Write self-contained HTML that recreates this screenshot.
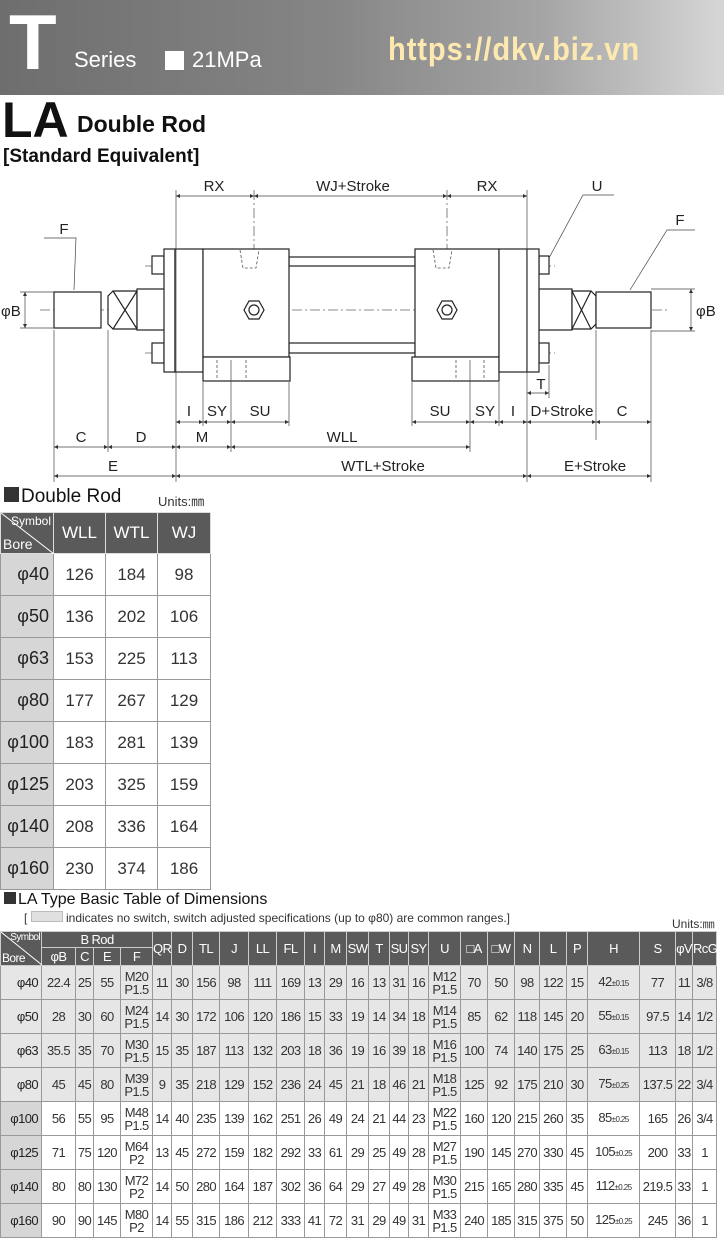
<!DOCTYPE html>
<html><head><meta charset="utf-8"><style>
body{margin:0;width:724px;height:1236px;position:relative;background:#fff;font-family:"Liberation Sans",sans-serif;overflow:hidden;color:#222}
.a{position:absolute;white-space:nowrap}
table{border-collapse:collapse;table-layout:fixed;position:absolute}
.t1 td{border:1px solid #999;text-align:center;font-size:17px;height:41px;padding:0;color:#333}
.t1 th{background:#5a5a5a;color:#fff;font-weight:normal;font-size:17px;border:1px solid #ddd;height:40px;padding:0}
.t1 td.b{background:#d6d6d6;text-align:right;padding-right:4px;font-size:18px;color:#222}
.t2 td{border:1px solid #999;text-align:center;font-size:13px;height:33px;padding:0;letter-spacing:-0.6px;color:#333;line-height:13px}
.t2 th{background:#5a5a5a;color:#fff;font-weight:normal;font-size:13px;border:1px solid #ccc;padding:0;letter-spacing:-0.6px}
.t2 tr.g td{background:#e6e6e6}
.t2 td.b{background:#d6d6d6;text-align:right;padding-right:3px;color:#222}
.t2 small{font-size:8px}
</style></head><body>
<div class="a" style="left:0;top:0;width:724px;height:95px;background:linear-gradient(90deg,#6e6e6e 0%,#858585 45%,#a5a5a5 75%,#d6d6d6 100%)"></div>
<div class="a" style="left:9px;top:3px;font-size:78px;font-weight:bold;color:#fff;line-height:78px">T</div>
<div class="a" style="left:74px;top:47px;font-size:22px;color:#fff">Series</div>
<div class="a" style="left:165px;top:51px;width:19px;height:19px;background:#fff"></div>
<div class="a" style="left:192px;top:47px;font-size:22px;color:#fff">21MPa</div>
<div class="a" style="left:388px;top:31px;font-size:32px;font-weight:bold;color:#fde9b0;transform:scaleX(0.91);transform-origin:0 0;letter-spacing:1px">https://dkv.biz.vn</div>
<div class="a" style="left:2px;top:91px;font-size:50px;font-weight:bold;color:#111;letter-spacing:0px">LA</div>
<div class="a" style="left:77px;top:111px;font-size:23px;font-weight:bold;color:#111">Double Rod</div>
<div class="a" style="left:3px;top:146px;font-size:19px;font-weight:bold;color:#111">[Standard Equivalent]</div>

<svg class="a" style="left:0;top:0" width="724" height="490" viewBox="0 0 724 490" font-family="Liberation Sans" font-size="15" fill="none" stroke="#333" stroke-width="1">
<defs><marker id="m" viewBox="0 0 6 6" refX="6" refY="3" markerWidth="6" markerHeight="6" orient="auto-start-reverse"><path d="M0 0 L6 3 L0 6z" fill="#333" stroke="none"/></marker></defs>
<g stroke-dasharray="10,3,2,3" stroke="#666" stroke-width="0.8">
<line x1="40" y1="310" x2="668" y2="310"/><line x1="145" y1="266" x2="555" y2="266"/><line x1="145" y1="353" x2="555" y2="353"/>
<line x1="254" y1="190" x2="254" y2="340"/><line x1="447" y1="190" x2="447" y2="340"/>
</g>
<g fill="#fff" stroke="#222" stroke-width="1.2">
<rect x="54" y="292" width="47" height="36"/><path d="M108 296 l5 -5 h24 v38 h-24 l-5 -5z"/><line x1="113" y1="291" x2="137" y2="329"/><line x1="137" y1="291" x2="113" y2="329"/>
<rect x="137" y="289" width="28" height="41"/>
<rect x="539" y="289" width="33" height="41"/><path d="M596 296 l-5 -5 h-19 v38 h19 l5 -5z"/><line x1="572" y1="291" x2="591" y2="329"/><line x1="591" y1="291" x2="572" y2="329"/>
<rect x="596" y="292" width="55" height="36"/>
<rect x="152" y="256" width="12" height="18"/><rect x="152" y="343" width="12" height="20"/>
<rect x="539" y="256" width="10" height="18"/><rect x="539" y="343" width="10" height="20"/>
<rect x="289" y="257" width="126" height="9"/><rect x="289" y="343" width="126" height="10"/>
<rect x="164" y="249" width="11" height="123"/><rect x="175" y="249" width="28" height="123"/>
<rect x="203" y="249" width="86" height="108"/><rect x="203" y="357" width="87" height="24"/>
<rect x="415" y="249" width="84" height="108"/><rect x="412" y="357" width="87" height="24"/>
<rect x="499" y="249" width="28" height="123"/><rect x="527" y="249" width="12" height="123"/>
<path d="M244 310 l5 -9 h10 l5 9 l-5 9 h-10z"/><circle cx="254" cy="310" r="5"/>
<path d="M437 310 l5 -9 h10 l5 9 l-5 9 h-10z"/><circle cx="447" cy="310" r="5"/>
</g>
<g stroke="#555" stroke-dasharray="3,2" stroke-width="0.8">
<line x1="217" y1="360" x2="217" y2="380"/><line x1="246" y1="360" x2="246" y2="380"/>
<line x1="456" y1="360" x2="456" y2="380"/><line x1="484" y1="360" x2="484" y2="380"/>
<path d="M240 250 l3 18 h13 l3 -18"/><path d="M433 250 l3 18 h13 l3 -18"/>
</g>
<g stroke="#444" stroke-width="0.7">
<line x1="176" y1="190" x2="176" y2="482"/><line x1="527" y1="190" x2="527" y2="482"/>
<line x1="54" y1="330" x2="54" y2="482"/><line x1="108" y1="330" x2="108" y2="452"/>
<line x1="203" y1="382" x2="203" y2="426"/><line x1="231" y1="360" x2="231" y2="452"/><line x1="289" y1="382" x2="289" y2="426"/>
<line x1="412" y1="382" x2="412" y2="426"/><line x1="470" y1="360" x2="470" y2="452"/><line x1="499" y1="382" x2="499" y2="426"/>
<line x1="549" y1="365" x2="549" y2="398"/><line x1="596" y1="330" x2="596" y2="440"/><line x1="651" y1="330" x2="651" y2="482"/>
<line x1="20" y1="292" x2="54" y2="292"/><line x1="20" y1="328" x2="54" y2="328"/>
<line x1="651" y1="289" x2="695" y2="289"/><line x1="651" y1="331" x2="695" y2="331"/>
<polyline points="44,238 76,238 74,290"/><polyline points="695,230 667,230 630,290"/>
<polyline points="614,195 583,195 549,258"/>
</g>
<g stroke="#444" stroke-width="0.7" marker-start="url(#m)" marker-end="url(#m)">
<line x1="25" y1="292" x2="25" y2="328"/><line x1="691" y1="289" x2="691" y2="331"/>
<line x1="176" y1="196" x2="254" y2="196"/><line x1="254" y1="196" x2="447" y2="196"/><line x1="447" y1="196" x2="527" y2="196"/>
<line x1="176" y1="422" x2="203" y2="422"/><line x1="203" y1="422" x2="231" y2="422"/><line x1="231" y1="422" x2="289" y2="422"/>
<line x1="412" y1="422" x2="470" y2="422"/><line x1="470" y1="422" x2="499" y2="422"/><line x1="499" y1="422" x2="527" y2="422"/><line x1="527" y1="422" x2="596" y2="422"/><line x1="596" y1="422" x2="651" y2="422"/>
<line x1="527" y1="393" x2="549" y2="393"/>
<line x1="54" y1="447" x2="108" y2="447"/><line x1="108" y1="447" x2="176" y2="447"/><line x1="176" y1="447" x2="231" y2="447"/><line x1="231" y1="447" x2="470" y2="447"/>
<line x1="54" y1="476" x2="176" y2="476"/><line x1="176" y1="476" x2="527" y2="476"/><line x1="527" y1="476" x2="651" y2="476"/>
</g>
<g fill="#222" stroke="none" font-size="15">
<text x="214" y="191" text-anchor="middle">RX</text><text x="353" y="191" text-anchor="middle">WJ+Stroke</text><text x="487" y="191" text-anchor="middle">RX</text>
<text x="597" y="191" text-anchor="middle">U</text><text x="64" y="234" text-anchor="middle">F</text><text x="680" y="225" text-anchor="middle">F</text>
<text x="1" y="316">φB</text><text x="696" y="316">φB</text>
<text x="189" y="416" text-anchor="middle">I</text><text x="217" y="416" text-anchor="middle">SY</text><text x="260" y="416" text-anchor="middle">SU</text>
<text x="440" y="416" text-anchor="middle">SU</text><text x="485" y="416" text-anchor="middle">SY</text><text x="513" y="416" text-anchor="middle">I</text>
<text x="562" y="416" text-anchor="middle">D+Stroke</text><text x="622" y="416" text-anchor="middle">C</text>
<text x="541" y="389" text-anchor="middle">T</text>
<text x="81" y="442" text-anchor="middle">C</text><text x="141" y="442" text-anchor="middle">D</text><text x="202" y="442" text-anchor="middle">M</text><text x="342" y="442" text-anchor="middle">WLL</text>
<text x="113" y="471" text-anchor="middle">E</text><text x="383" y="471" text-anchor="middle">WTL+Stroke</text><text x="595" y="471" text-anchor="middle">E+Stroke</text>
</g>
</svg>

<div class="a" style="left:4px;top:486px;font-size:19px;color:#111"><span style="display:inline-block;width:15px;height:15px;background:#333;margin-right:2px"></span>Double Rod</div>
<div class="a" style="left:158px;top:491px;font-size:13px;color:#333">Units:㎜</div>
<table class="t1" style="left:0;top:512px;width:210px">
<colgroup><col style="width:53px"><col style="width:52px"><col style="width:52px"><col style="width:53px"></colgroup>
<tr><th style="position:relative;font-size:12px"><svg style="position:absolute;left:0;top:0" width="53" height="41"><line x1="0" y1="0" x2="53" y2="41" stroke="#fff"/></svg><span style="position:absolute;right:2px;top:1px">Symbol</span><span style="position:absolute;left:2px;bottom:1px;font-size:14px">Bore</span></th><th>WLL</th><th>WTL</th><th>WJ</th></tr>
<tr><td class="b">φ40</td><td>126</td><td>184</td><td>98</td></tr>
<tr><td class="b">φ50</td><td>136</td><td>202</td><td>106</td></tr>
<tr><td class="b">φ63</td><td>153</td><td>225</td><td>113</td></tr>
<tr><td class="b">φ80</td><td>177</td><td>267</td><td>129</td></tr>
<tr><td class="b">φ100</td><td>183</td><td>281</td><td>139</td></tr>
<tr><td class="b">φ125</td><td>203</td><td>325</td><td>159</td></tr>
<tr><td class="b">φ140</td><td>208</td><td>336</td><td>164</td></tr>
<tr><td class="b">φ160</td><td>230</td><td>374</td><td>186</td></tr>
</table>

<div class="a" style="left:4px;top:891px;font-size:16px;color:#111"><span style="display:inline-block;width:12px;height:12px;background:#333;margin-right:2px"></span>LA Type Basic Table of Dimensions</div>
<div class="a" style="left:24px;top:911px;font-size:12px;color:#333">[ <span style="display:inline-block;width:30px;height:9px;background:#e0e0e0;border:1px solid #bbb"></span> indicates no switch, switch adjusted specifications (up to φ80) are common ranges.]</div>
<div class="a" style="left:672px;top:915px;font-size:12px;color:#333">Units:㎜</div>
<table class="t2" style="left:0;top:931px;width:716px">
<colgroup><col style="width:41px"><col style="width:34px"><col style="width:18px"><col style="width:27px"><col style="width:32px"><col style="width:19px"><col style="width:21px"><col style="width:27px"><col style="width:29px"><col style="width:28px"><col style="width:28px"><col style="width:20px"><col style="width:22px"><col style="width:22px"><col style="width:21px"><col style="width:19px"><col style="width:20px"><col style="width:32px"><col style="width:27px"><col style="width:27px"><col style="width:25px"><col style="width:27px"><col style="width:21px"><col style="width:52px"><col style="width:36px"><col style="width:17px"><col style="width:24px"></colgroup>
<tr style="height:15px"><th rowspan="2" style="position:relative;font-size:10px"><svg style="position:absolute;left:0;top:0" width="41" height="33"><line x1="0" y1="0" x2="41" y2="33" stroke="#fff"/></svg><span style="position:absolute;right:1px;top:0">Symbol</span><span style="position:absolute;left:1px;bottom:0;font-size:12px">Bore</span></th><th colspan="4">B Rod</th><th rowspan="2">QR</th><th rowspan="2">D</th><th rowspan="2">TL</th><th rowspan="2">J</th><th rowspan="2">LL</th><th rowspan="2">FL</th><th rowspan="2">I</th><th rowspan="2">M</th><th rowspan="2">SW</th><th rowspan="2">T</th><th rowspan="2">SU</th><th rowspan="2">SY</th><th rowspan="2">U</th><th rowspan="2">□A</th><th rowspan="2">□W</th><th rowspan="2">N</th><th rowspan="2">L</th><th rowspan="2">P</th><th rowspan="2">H</th><th rowspan="2">S</th><th rowspan="2">φV</th><th rowspan="2">RcG</th></tr>
<tr style="height:18px"><th>φB</th><th>C</th><th>E</th><th>F</th></tr>
<tr class="g"><td class="b">φ40</td><td>22.4</td><td>25</td><td>55</td><td>M20<br>P1.5</td><td>11</td><td>30</td><td>156</td><td>98</td><td>111</td><td>169</td><td>13</td><td>29</td><td>16</td><td>13</td><td>31</td><td>16</td><td>M12<br>P1.5</td><td>70</td><td>50</td><td>98</td><td>122</td><td>15</td><td>42<small>±0.15</small></td><td>77</td><td>11</td><td>3/8</td></tr>
<tr class="g"><td class="b">φ50</td><td>28</td><td>30</td><td>60</td><td>M24<br>P1.5</td><td>14</td><td>30</td><td>172</td><td>106</td><td>120</td><td>186</td><td>15</td><td>33</td><td>19</td><td>14</td><td>34</td><td>18</td><td>M14<br>P1.5</td><td>85</td><td>62</td><td>118</td><td>145</td><td>20</td><td>55<small>±0.15</small></td><td>97.5</td><td>14</td><td>1/2</td></tr>
<tr class="g"><td class="b">φ63</td><td>35.5</td><td>35</td><td>70</td><td>M30<br>P1.5</td><td>15</td><td>35</td><td>187</td><td>113</td><td>132</td><td>203</td><td>18</td><td>36</td><td>19</td><td>16</td><td>39</td><td>18</td><td>M16<br>P1.5</td><td>100</td><td>74</td><td>140</td><td>175</td><td>25</td><td>63<small>±0.15</small></td><td>113</td><td>18</td><td>1/2</td></tr>
<tr class="g"><td class="b">φ80</td><td>45</td><td>45</td><td>80</td><td>M39<br>P1.5</td><td>9</td><td>35</td><td>218</td><td>129</td><td>152</td><td>236</td><td>24</td><td>45</td><td>21</td><td>18</td><td>46</td><td>21</td><td>M18<br>P1.5</td><td>125</td><td>92</td><td>175</td><td>210</td><td>30</td><td>75<small>±0.25</small></td><td>137.5</td><td>22</td><td>3/4</td></tr>
<tr><td class="b">φ100</td><td>56</td><td>55</td><td>95</td><td>M48<br>P1.5</td><td>14</td><td>40</td><td>235</td><td>139</td><td>162</td><td>251</td><td>26</td><td>49</td><td>24</td><td>21</td><td>44</td><td>23</td><td>M22<br>P1.5</td><td>160</td><td>120</td><td>215</td><td>260</td><td>35</td><td>85<small>±0.25</small></td><td>165</td><td>26</td><td>3/4</td></tr>
<tr><td class="b">φ125</td><td>71</td><td>75</td><td>120</td><td>M64<br>P2</td><td>13</td><td>45</td><td>272</td><td>159</td><td>182</td><td>292</td><td>33</td><td>61</td><td>29</td><td>25</td><td>49</td><td>28</td><td>M27<br>P1.5</td><td>190</td><td>145</td><td>270</td><td>330</td><td>45</td><td>105<small>±0.25</small></td><td>200</td><td>33</td><td>1</td></tr>
<tr><td class="b">φ140</td><td>80</td><td>80</td><td>130</td><td>M72<br>P2</td><td>14</td><td>50</td><td>280</td><td>164</td><td>187</td><td>302</td><td>36</td><td>64</td><td>29</td><td>27</td><td>49</td><td>28</td><td>M30<br>P1.5</td><td>215</td><td>165</td><td>280</td><td>335</td><td>45</td><td>112<small>±0.25</small></td><td>219.5</td><td>33</td><td>1</td></tr>
<tr><td class="b">φ160</td><td>90</td><td>90</td><td>145</td><td>M80<br>P2</td><td>14</td><td>55</td><td>315</td><td>186</td><td>212</td><td>333</td><td>41</td><td>72</td><td>31</td><td>29</td><td>49</td><td>31</td><td>M33<br>P1.5</td><td>240</td><td>185</td><td>315</td><td>375</td><td>50</td><td>125<small>±0.25</small></td><td>245</td><td>36</td><td>1</td></tr>
</table>
</body></html>
